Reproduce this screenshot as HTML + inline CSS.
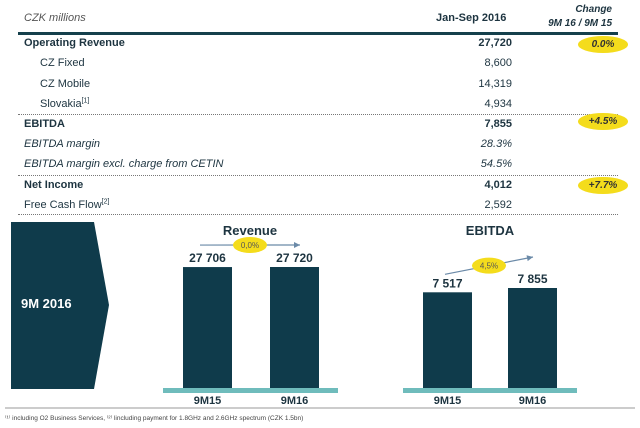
<!DOCTYPE html>
<html><head><meta charset="utf-8"><style>
body{margin:0;width:640px;height:428px;background:#fff;font-family:"Liberation Sans",sans-serif;position:relative;overflow:hidden;color:#1d3440}
.t{position:absolute;font-size:11px;white-space:nowrap;line-height:13px}
.b{font-weight:bold}.i{font-style:italic}
.r{text-align:right}
.dot{position:absolute;left:18px;width:600px;border-top:1px dotted #777}
.ov{position:absolute;width:50px;height:17px;border-radius:50%;background:#f4dc1c;font:italic bold 10px "Liberation Sans",sans-serif;text-align:center;line-height:17px;color:#333}
sup{font-size:7px;line-height:0}
</style></head><body>
<div class="t i" style="left:24px;top:12px;color:#555">CZK millions</div>
<div class="t b" style="left:436px;top:12px">Jan-Sep 2016</div>
<div class="t b i r" style="left:530px;top:3px;width:82px;font-size:10px;line-height:14px">Change<br>9M 16 / 9M 15</div>
<div style="position:absolute;left:18px;top:32px;width:600px;height:3px;background:#15404c"></div>

<div class="t b" style="left:24px;top:37px">Operating Revenue</div>
<div class="t b r" style="left:430px;width:82px;top:37px">27,720</div>
<div class="t" style="left:40px;top:57px">CZ Fixed</div>
<div class="t r" style="left:430px;width:82px;top:57px">8,600</div>
<div class="t" style="left:40px;top:78px">CZ Mobile</div>
<div class="t r" style="left:430px;width:82px;top:78px">14,319</div>
<div class="t" style="left:40px;top:98px">Slovakia<sup>[1]</sup></div>
<div class="t r" style="left:430px;width:82px;top:98px">4,934</div>
<div class="dot" style="top:114px"></div>
<div class="t b" style="left:24px;top:118px">EBITDA</div>
<div class="t b r" style="left:430px;width:82px;top:118px">7,855</div>
<div class="t i" style="left:24px;top:138px">EBITDA margin</div>
<div class="t i r" style="left:430px;width:82px;top:138px">28.3%</div>
<div class="t i" style="left:24px;top:158px">EBITDA margin excl. charge from CETIN</div>
<div class="t i r" style="left:430px;width:82px;top:158px">54.5%</div>
<div class="dot" style="top:175px"></div>
<div class="t b" style="left:24px;top:179px">Net Income</div>
<div class="t b r" style="left:430px;width:82px;top:179px">4,012</div>
<div class="t" style="left:24px;top:199px">Free Cash Flow<sup>[2]</sup></div>
<div class="t r" style="left:430px;width:82px;top:199px">2,592</div>
<div class="dot" style="top:214px"></div>

<div class="ov" style="left:578px;top:36px">0.0%</div>
<div class="ov" style="left:578px;top:113px">+4.5%</div>
<div class="ov" style="left:578px;top:177px">+7.7%</div>

<svg width="640" height="428" style="position:absolute;left:0;top:0" id="svg">
<polygon points="11,222 94,222 109,305 94,389 11,389" fill="#0f3b4b"/>
<text x="21" y="308" fill="#fff" font-size="13" font-weight="bold" font-family="Liberation Sans">9M 2016</text>
<line x1="5" y1="408" x2="635" y2="408" stroke="#999" stroke-width="1"/>
<text x="5" y="420" font-size="6.5" fill="#444" font-family="Liberation Sans">⁽¹⁾ including O2 Business Services, ⁽²⁾ lincluding payment for 1.8GHz and 2.6GHz spectrum (CZK 1.5bn)</text>
</svg>
<script>
const categories=["9M15","9M16"];
const revenueValues=[27706,27720];
const revenueLabels=["27 706","27 720"];
const ebitdaValues=[7517,7855];
const ebitdaLabels=["7 517","7 855"];
const revenueChange="0,0%";
const ebitdaChange="4,5%";
const NS="http://www.w3.org/2000/svg";
const svg=document.getElementById('svg');
function mk(tag,attrs){const e=document.createElementNS(NS,tag);for(const k in attrs)e.setAttribute(k,attrs[k]);svg.appendChild(e);return e;}
function txt(s,attrs){const e=mk('text',Object.assign({'font-family':'Liberation Sans','text-anchor':'middle'},attrs));e.textContent=s;return e;}
function chart(name,title,vals,labels,chg,x0,xs,baseY,pxPerUnit,bl,br,bw,titleX,ax1,ax2,o1,o2){
  const y=v=>baseY-v*pxPerUnit;
  let t=txt(title,{x:titleX,y:235,'font-size':13,'font-weight':'bold',fill:'#1d3440'});
  
  
  vals.forEach((v,i)=>{
    const x=x0+i*xs;
    const r=mk('rect',{x:x,y:y(v),width:bw,height:baseY-y(v),fill:'#0f3b4b'});
    
    
    const l=txt(labels[i],{x:x+bw/2,y:y(v)-5,'font-size':12,'font-weight':'bold',fill:'#1d3440'});
    
    
    const c=txt(categories[i],{x:x+bw/2,y:404,'font-size':11,'font-weight':'bold',fill:'#1d3440'});
    
    
  });
  const b=mk('rect',{x:bl,y:baseY,width:br-bl,height:5,fill:'#6fbcbc'});
  
  
  const ay1=y(vals[0])-o1, ay2=y(vals[1])-o2;
  const ln=mk('line',{x1:ax1,y1:ay1,x2:ax2,y2:ay2,stroke:'#6b8aa8','stroke-width':1.2});
  
  
  const ang=Math.atan2(ay2-ay1,ax2-ax1);
  const hp=[[ax2,ay2],[ax2-6*Math.cos(ang)+3*Math.sin(ang),ay2-6*Math.sin(ang)-3*Math.cos(ang)],[ax2-6*Math.cos(ang)-3*Math.sin(ang),ay2-6*Math.sin(ang)+3*Math.cos(ang)]];
  const hd=mk('polygon',{points:hp.map(p=>p.join(',')).join(' '),fill:'#6b8aa8'});
  
  
  const mx=(ax1+ax2)/2,my=(ay1+ay2)/2;
  const e=mk('ellipse',{cx:mx,cy:my,rx:17,ry:8,fill:'#f4dc1c'});
  
  
  const et=txt(chg,{x:mx,y:my+3,'font-size':8,fill:'#555'});
  
  
}
chart('revenue','Revenue',revenueValues,revenueLabels,revenueChange,183,87,388,121/27720,163,338,49,250,200,300,22,22);
chart('ebitda','EBITDA',ebitdaValues,ebitdaLabels,ebitdaChange,423,85,388,100/7855,403,577,49,490,445,533,18,31);
</script>
</body></html>
